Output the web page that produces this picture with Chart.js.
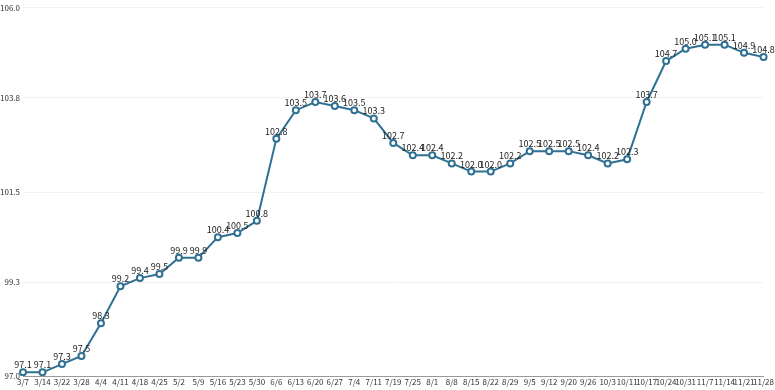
<!DOCTYPE html>
<html>
<head>
<meta charset="utf-8">
<script src="https://cdn.jsdelivr.net/npm/chart.js@4"></script>
<style>
    html, body { margin: 0; padding: 0; background: #fff; }
    #wrap { width: 775px; height: 390px; }
</style>
</head>
<body>
<div id="wrap"><canvas id="chart"></canvas></div>
<script>
const categories = ['3/7', '3/14', '3/22', '3/28', '4/4', '4/11', '4/18', '4/25', '5/2', '5/9',
    '5/16', '5/23', '5/30', '6/6', '6/13', '6/20', '6/27', '7/4', '7/11', '7/19',
    '7/25', '8/1', '8/8', '8/15', '8/22', '8/29', '9/5', '9/12', '9/20', '9/26',
    '10/3', '10/11', '10/17', '10/24', '10/31', '11/7', '11/14', '11/21', '11/28'];

const values = [97.1, 97.1, 97.3, 97.5, 98.3, 99.2, 99.4, 99.5, 99.9, 99.9,
    100.4, 100.5, 100.8, 102.8, 103.5, 103.7, 103.6, 103.5, 103.3, 102.7,
    102.4, 102.4, 102.2, 102.0, 102.0, 102.2, 102.5, 102.5, 102.5, 102.4,
    102.2, 102.3, 103.7, 104.7, 105.0, 105.1, 105.1, 104.9, 104.8];

const yTicks = [97.0, 99.3, 101.5, 103.8, 106.0];

const LINE_COLOR = '#2f7093';
const FONT = '"Noto Sans CJK JP", "DejaVu Sans", sans-serif';

// draws value labels above each point
const pointLabels = {
    id: 'pointLabels',
    afterDatasetsDraw(chart) {
        const ctx = chart.ctx;
        const meta = chart.getDatasetMeta(0);
        ctx.save();
        ctx.font = '9px ' + FONT;
        ctx.fillStyle = '#222';
        ctx.textAlign = 'center';
        ctx.textBaseline = 'bottom';
        meta.data.forEach((pt, i) => {
            ctx.fillText(values[i].toFixed(1), pt.x, pt.y - 3);
        });
        ctx.restore();
    }
};

new Chart(document.getElementById('chart'), {
    type: 'line',
    data: {
        labels: categories,
        datasets: [{
            data: values,
            borderColor: LINE_COLOR,
            borderWidth: 2,
            backgroundColor: '#fff',
            pointBackgroundColor: '#fff',
            pointBorderColor: LINE_COLOR,
            pointBorderWidth: 2,
            pointRadius: 3,
            tension: 0
        }]
    },
    options: {
        responsive: true,
        maintainAspectRatio: false,
        animation: false,
        layout: { padding: { top: 1, right: 2, left: 0, bottom: 2 } },
        plugins: {
            legend: { display: false },
            tooltip: { enabled: false }
        },
        scales: {
            x: {
                offset: false,
                grid: { display: false, drawTicks: false },
                border: { color: '#999', width: 1 },
                ticks: {
                    color: '#333',
                    font: { size: 8, family: FONT },
                    maxRotation: 0,
                    autoSkip: false,
                    padding: 1
                }
            },
            y: {
                min: 97,
                max: 106,
                afterBuildTicks: (scale) => {
                    scale.ticks = yTicks.map(v => ({ value: v }));
                },
                afterFit: (scale) => { scale.width = 23; },
                grid: { color: '#f2f2f2', drawTicks: false },
                border: { display: false },
                ticks: {
                    color: '#333',
                    font: { size: 8, family: FONT },
                    padding: 3,
                    callback: (v) => v.toFixed(1)
                }
            }
        }
    },
    plugins: [pointLabels]
});
</script>
</body>
</html>
